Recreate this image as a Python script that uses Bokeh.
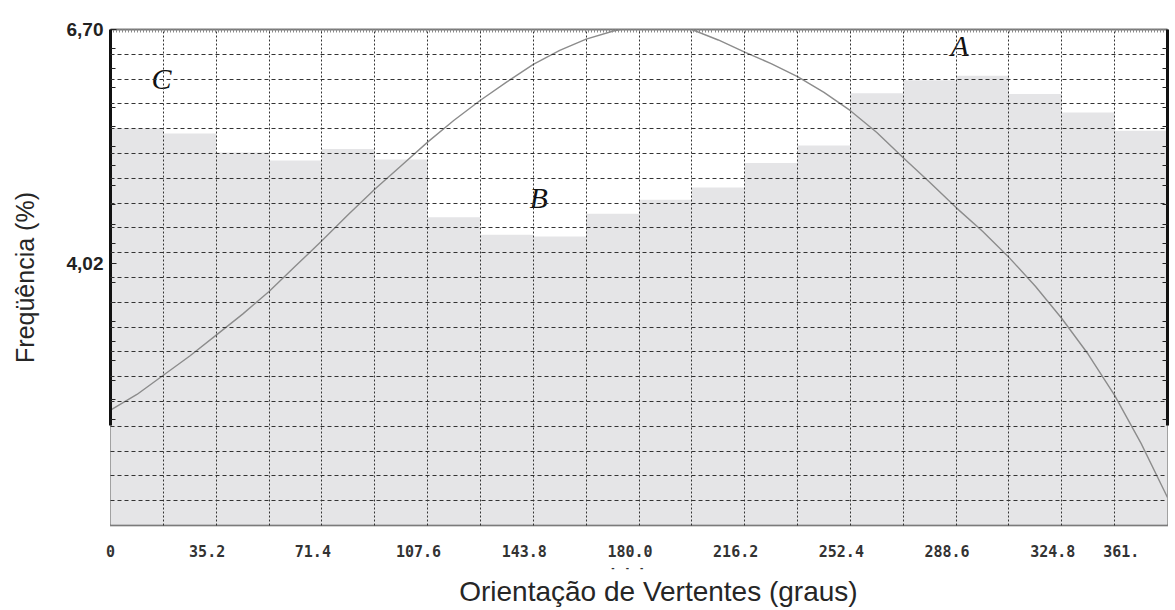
from bokeh.plotting import figure
from bokeh.models import FixedTicker, LinearAxis, Range1d, Label
from bokeh.embed import file_html
from bokeh.resources import INLINE

# ---- data ----
bin_left = [0.0, 18.1, 36.2, 54.3, 72.4, 90.5, 108.6, 126.7, 144.8, 162.9,
            181.0, 199.1, 217.2, 235.3, 253.4, 271.5, 289.6, 307.7, 325.8, 343.9]
bin_width = 18.1
freq = [5.57, 5.51, 5.29, 5.20, 5.33, 5.21, 4.55, 4.35, 4.33, 4.59,
        4.75, 4.89, 5.17, 5.37, 5.97, 6.12, 6.17, 5.96, 5.75, 5.54]

curve_x = [0.0, 9.05, 18.1, 27.15, 36.2, 45.25, 54.3, 63.35, 72.4, 81.45,
           90.5, 99.55, 108.6, 117.65, 126.7, 135.75, 144.8, 153.85, 162.9, 171.95,
           181.0, 190.05, 199.1, 208.15, 217.2, 226.25, 235.3, 244.35, 253.4, 262.45,
           271.5, 280.55, 289.6, 298.65, 307.7, 316.75, 325.8, 334.85, 343.9, 352.95, 362.0]
curve_y = [2.34, 2.52, 2.74, 2.96, 3.20, 3.44, 3.70, 3.99, 4.28, 4.58,
           4.87, 5.14, 5.41, 5.66, 5.89, 6.10, 6.30, 6.46, 6.59, 6.68,
           6.75, 6.76, 6.70, 6.58, 6.44, 6.31, 6.16, 5.98, 5.77, 5.52,
           5.23, 4.95, 4.66, 4.39, 4.09, 3.76, 3.39, 2.98, 2.51, 1.96, 1.34]

x_tick_pos = [0.0, 36.2, 72.4, 108.6, 144.8, 181.0, 217.2, 253.4, 289.6, 325.8, 362.0]
x_tick_labels = ["0", "35.2", "71.4", "107.6", "143.8", "180.0", "216.2",
                 "252.4", "288.6", "324.8", "361."]
y_tick_pos = [4.02, 6.70]
y_tick_labels = ["4,02", "6,70"]

marks = ["C", "B", "A"]
mark_x = [17.5, 146.6, 290.8]
mark_y = [6.14, 4.78, 6.52]

# ---- layout constants ----
Y_LO, Y_HI = 1.019, 6.70
X_LO, X_HI = 0.0, 362.0
minor_step = (6.70 - 4.02) / 12.0
y_minor = [6.70 - k * minor_step for k in range(1, 21) if k != 12]
axis_low = 6.70 - 20.3 * minor_step
grid_y = [Y_LO + k * (Y_HI - Y_LO) / 20.0 for k in range(1, 20)]
grid_x = [bin_width * k for k in range(1, 20)]

p = figure(width=1175, height=610, output_backend="svg", toolbar_location=None,
           x_range=Range1d(X_LO, X_HI), y_range=Range1d(Y_LO, Y_HI),
           min_border_left=110, min_border_right=8, min_border_top=29, min_border_bottom=85)
p.background_fill_color = "white"
p.border_fill_color = "white"
p.outline_line_color = "#8a8a8a"
p.outline_line_width = 1

# bars
centers = [b + bin_width / 2 for b in bin_left]
p.vbar(x=centers, top=freq, bottom=Y_LO, width=bin_width,
       fill_color="#e5e5e7", line_color=None)

# fitted curve
p.line(curve_x, curve_y, line_color="#8c8c8c", line_width=1.4)

# grids
p.xgrid.ticker = FixedTicker(ticks=grid_x)
p.ygrid.ticker = FixedTicker(ticks=grid_y)
p.xgrid.grid_line_color = "#333333"
p.xgrid.grid_line_dash = "2 2"
p.xgrid.grid_line_width = 1
p.ygrid.grid_line_color = "#333333"
p.ygrid.grid_line_dash = "4 3"
p.ygrid.grid_line_width = 1
p.xgrid.level = "overlay"
p.ygrid.level = "overlay"

# bottom axis
shift = {"0": "", "361.": "\u00a0\u00a0\u00a0\u00a0"}
xa = p.xaxis[0]
xa.ticker = FixedTicker(ticks=x_tick_pos)
xa.major_label_overrides = {t: l + shift.get(l, "\u00a0\u00a0") for t, l in zip(x_tick_pos, x_tick_labels)}
xa.major_tick_in = 0
xa.major_tick_out = 0
xa.minor_tick_in = 0
xa.minor_tick_out = 0
xa.axis_line_color = "#555555"
xa.axis_line_width = 2
xa.axis_line_dash = "1 1"
xa.major_label_standoff = 17
xa.major_label_text_font = "DejaVu Sans Mono"
xa.major_label_text_font_style = "bold"
xa.major_label_text_font_size = "15px"
xa.major_label_text_color = "#333333"

# second bottom axis: small marker under 180.0 and the axis title
xb = LinearAxis(ticker=FixedTicker(ticks=[177.0]))
xb.major_label_overrides = {177.0: "-\u00a0\u00a0-\u00a0\u00a0-"}
xb.axis_line_color = None
xb.major_tick_line_color = None
xb.minor_tick_line_color = None
xb.major_tick_in = 0
xb.major_tick_out = 0
xb.major_label_standoff = 0
xb.major_label_text_font = "DejaVu Sans Mono"
xb.major_label_text_font_style = "bold"
xb.major_label_text_font_size = "8px"
xb.major_label_text_color = "#333333"
xb.axis_label = "\u00a0" * 5 + "Orientação de Vertentes (graus)"
xb.axis_label_text_font = "Liberation Sans"
xb.axis_label_text_font_style = "normal"
xb.axis_label_text_font_size = "28px"
xb.axis_label_text_color = "#262626"
xb.axis_label_standoff = 0
p.add_layout(xb, "below")

# left axis
ya = p.yaxis[0]
ya.ticker = FixedTicker(ticks=y_tick_pos, minor_ticks=y_minor)
ya.major_label_overrides = {t: l for t, l in zip(y_tick_pos, y_tick_labels)}
ya.bounds = (axis_low, Y_HI)
ya.axis_line_color = "#111111"
ya.axis_line_width = 3
ya.major_tick_in = 6
ya.major_tick_out = 0
ya.minor_tick_in = 5
ya.minor_tick_out = 0
ya.major_tick_line_color = "#222222"
ya.minor_tick_line_color = "#222222"
ya.major_label_standoff = 7
ya.major_label_text_font = "Liberation Sans"
ya.major_label_text_font_style = "bold"
ya.major_label_text_font_size = "19px"
ya.major_label_text_color = "#222222"
ya.axis_label = "Freqüência (%)"
ya.axis_label_text_font = "Liberation Sans"
ya.axis_label_text_font_style = "normal"
ya.axis_label_text_font_size = "25px"
ya.axis_label_text_color = "#262626"
ya.axis_label_standoff = 25

# right axis (frame edge with inner ticks)
ra = LinearAxis(ticker=FixedTicker(ticks=[], minor_ticks=y_minor + [4.02]), bounds=(axis_low, Y_HI))
ra.axis_line_color = "#111111"
ra.axis_line_width = 3
ra.major_tick_in = 0
ra.major_tick_out = 0
ra.minor_tick_in = 5
ra.minor_tick_out = 0
ra.minor_tick_line_color = "#222222"
ra.major_label_text_font_size = "0px"
ra.major_label_standoff = 0
p.add_layout(ra, "right")

# top axis (ruler-like edge)
ta = LinearAxis(ticker=FixedTicker(ticks=[], minor_ticks=[k * 1.03 for k in range(352)]))
ta.axis_line_color = "#7a7a7a"
ta.axis_line_width = 2
ta.major_tick_in = 0
ta.major_tick_out = 0
ta.minor_tick_in = 3
ta.minor_tick_out = 0
ta.minor_tick_line_color = "#8a8a8a"
ta.major_label_text_font_size = "0px"
ta.major_label_standoff = 0
p.add_layout(ta, "above")

# region letters
for t, mx, my in zip(marks, mark_x, mark_y):
    p.add_layout(Label(x=mx, y=my, text=t, text_font="Liberation Serif",
                       text_font_style="italic", text_font_size="30px",
                       text_color="#111111", text_align="center", text_baseline="middle"))

open("out.html", "w").write(file_html(p, INLINE))
